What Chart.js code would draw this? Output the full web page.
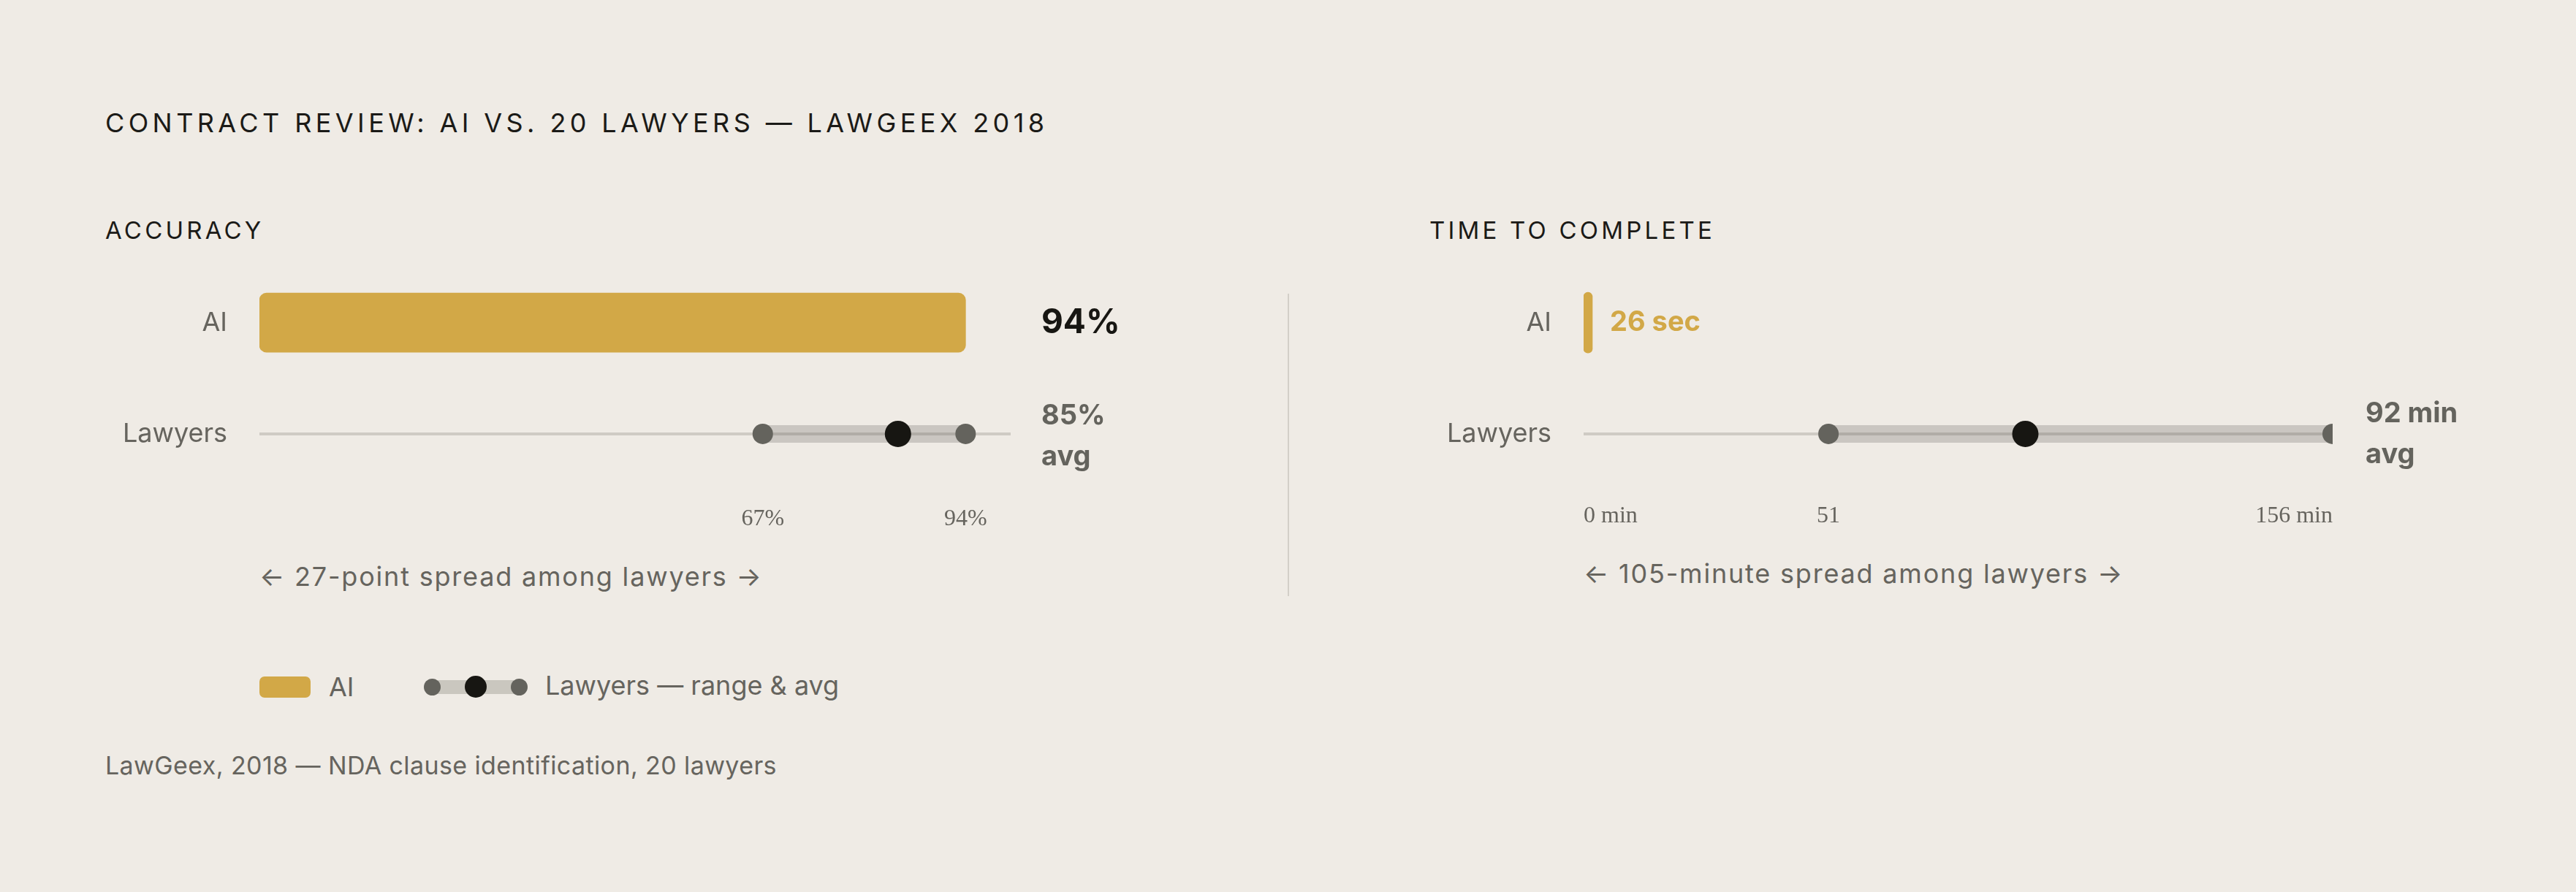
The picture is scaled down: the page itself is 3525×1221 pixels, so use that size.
<!DOCTYPE html>
<html>
<head>
<meta charset="utf-8">
<script src="https://cdn.jsdelivr.net/npm/chart.js@4.4.1/dist/chart.umd.min.js"></script>
<style>
  html, body { margin: 0; padding: 0; background: #efebe5; }
  body { width: 3525px; height: 1221px; position: relative; overflow: hidden;
         font-family: Inter, "Noto Sans", sans-serif; color: #66645e; }
  .abs { position: absolute; white-space: nowrap; line-height: 1; }
  .title { left: 144px; top: 150px; font-size: 36px; letter-spacing: 5.4px; color: #1b1a17; }
  .head { top: 299px; font-size: 33px; letter-spacing: 4.2px; color: #1b1a17; }
  .note { top: 771px; font-size: 36px; letter-spacing: 1.8px; }
  .foot { left: 144px; top: 1031px; font-size: 34px; letter-spacing: 0.4px; }
  canvas { position: absolute; }
  .divider { position: absolute; left: 1762px; top: 402px; width: 2px; height: 414px; background: #d3cfc8; }
  .lg-ai { position: absolute; left: 355px; top: 926px; width: 70px; height: 29px; border-radius: 7px; background: #d2a847; }
  .lg-band { position: absolute; left: 592px; top: 931px; width: 119px; height: 19px; background: #cac7bf; }
  .lg-dot { position: absolute; border-radius: 50%; }
</style>
</head>
<body>
<div class="abs title">CONTRACT REVIEW: AI VS. 20 LAWYERS — LAWGEEX 2018</div>
<div class="abs head" style="left:144px">ACCURACY</div>
<div class="abs head" style="left:1956px">TIME TO COMPLETE</div>

<canvas id="accuracy" width="1560" height="440" style="left:144px; top:300px; width:1560px; height:440px"></canvas>
<div class="divider"></div>
<canvas id="time" width="1500" height="440" style="left:1956px; top:300px; width:1500px; height:440px"></canvas>

<div class="abs note" id="note-acc" style="left:355px"></div>
<div class="abs note" id="note-time" style="left:2167px; top:767px"></div>

<div class="lg-ai"></div>
<div class="abs" style="left:450px; top:922px; font-size:36px">AI</div>
<div class="lg-band"></div>
<div class="lg-dot" style="left:580px; top:929px; width:23px; height:23px; background:#64635d"></div>
<div class="lg-dot" style="left:699px; top:929px; width:23px; height:23px; background:#64635d"></div>
<div class="lg-dot" style="left:636px; top:925px; width:30px; height:30px; background:#171612"></div>
<div class="abs" style="left:746px; top:920px; font-size:36px">Lawyers — range &amp; avg</div>

<div class="abs foot">LawGeex, 2018 — NDA clause identification, 20 lawyers</div>

<script>
const rowLabels = ['AI', 'Lawyers'];

// accuracy, percent
const accuracyAi = [94];
const accuracyLawyers = [67, 85, 94];   // min, avg, max
const accuracyTicks = [67, 94];

// time to complete, minutes
const timeAi = [26 / 60];               // 26 sec
const timeLawyers = [51, 92, 156];      // min, avg, max
const timeTicks = [0, 51, 156];

const GOLD = '#d2a847';
const DARK = '#171612';
const GREY = '#64635d';
const TEXT = '#66645e';
const SANS = 'Inter, "Noto Sans", sans-serif';

const valueLabels = {
  id: 'valueLabels',
  afterDatasetsDraw(chart, args, opts) {
    const ctx = chart.ctx;
    const area = chart.chartArea;
    const y = chart.scales.y;
    const bar = chart.getDatasetMeta(0).data[0];
    ctx.save();
    ctx.textAlign = 'left';
    ctx.textBaseline = 'middle';
    opts.items.forEach(function(it) {
      ctx.font = it.font;
      ctx.fillStyle = it.color;
      const x = (it.anchor === 'bar' ? bar.x : area.right) + it.dx;
      const yc = y.getPixelForValue(it.row) + (it.dy || 0);
      const lh = it.lh || 0;
      const start = yc - lh * (it.lines.length - 1) / 2;
      it.lines.forEach(function(t, i) { ctx.fillText(t, x, start + i * lh); });
    });
    ctx.restore();
  }
};

function makePanel(id, c) {
  const lo = c.lawyers[0], avg = c.lawyers[1], hi = c.lawyers[2];
  return new Chart(document.getElementById(id), {
    type: 'bar',
    data: {
      labels: rowLabels,
      datasets: [
        { type: 'bar', indexAxis: 'y', data: [c.ai[0], null], backgroundColor: GOLD,
          barThickness: c.barThickness, borderRadius: c.radius, borderSkipped: false,
          minBarLength: c.minBar, order: 1 },
        { type: 'line', indexAxis: 'y', data: [{x: 0, y: 'Lawyers'}, {x: c.max, y: 'Lawyers'}],
          borderColor: '#cfcbc4', borderWidth: 4, pointRadius: 0, order: 5 },
        { type: 'line', indexAxis: 'y', data: [{x: lo, y: 'Lawyers'}, {x: hi, y: 'Lawyers'}],
          borderColor: 'rgba(44,42,38,0.19)', borderWidth: 24, borderCapStyle: 'butt', pointRadius: 0, order: 4 },
        { type: 'line', indexAxis: 'y', showLine: false, data: [{x: lo, y: 'Lawyers'}, {x: hi, y: 'Lawyers'}],
          pointRadius: 14, pointBackgroundColor: GREY, pointBorderWidth: 0, order: 3 },
        { type: 'line', indexAxis: 'y', showLine: false, data: [{x: avg, y: 'Lawyers'}],
          pointRadius: 18, pointBackgroundColor: DARK, pointBorderWidth: 0, order: 2 }
      ]
    },
    options: {
      indexAxis: 'y',
      responsive: false,
      animation: false,
      events: [],
      layout: { padding: { top: 0, right: c.padRight, bottom: 0, left: 0 } },
      plugins: {
        legend: { display: false },
        tooltip: { enabled: false },
        valueLabels: { items: c.labels }
      },
      scales: {
        x: {
          type: 'linear', min: 0, max: c.max,
          grid: { display: false, drawTicks: false },
          border: { display: false },
          afterBuildTicks: function(s) { s.ticks = c.ticks.map(function(v) { return {value: v}; }); },
          ticks: {
            callback: c.fmt, autoSkip: false, maxRotation: 0, align: c.align,
            font: { family: '"Liberation Serif", serif', size: 32 }, color: TEXT, padding: c.tickPad
          },
          afterFit: function(s) { s.height = 70; }
        },
        y: {
          type: 'category',
          grid: { display: false, drawTicks: false },
          border: { display: false },
          ticks: { font: { family: SANS, size: 36 }, color: TEXT, padding: 44 },
          afterFit: function(s) { s.width = 211; }
        }
      }
    },
    plugins: [valueLabels]
  });
}

makePanel('accuracy', {
  ai: accuracyAi, lawyers: accuracyLawyers, ticks: accuracyTicks, max: 100,
  barThickness: 81, radius: 10, minBar: 0, padRight: 321, align: 'center', tickPad: 21,
  fmt: function(v) { return v + '%'; },
  labels: [
    { row: 0, anchor: 'area', dx: 42, lines: [accuracyAi[0] + '%'], font: 'bold 46px ' + SANS, color: DARK },
    { row: 1, anchor: 'area', dx: 42, dy: 4, lh: 56, lines: [accuracyLawyers[1] + '%', 'avg'], font: 'bold 38px ' + SANS, color: GREY }
  ]
});

makePanel('time', {
  ai: timeAi, lawyers: timeLawyers, ticks: timeTicks, max: timeLawyers[2],
  barThickness: 83, radius: 6, minBar: 12, padRight: 264, align: 'inner', tickPad: 17,
  fmt: function(v, i, arr) { return (i === 0 || i === arr.length - 1) ? v + ' min' : String(v); },
  labels: [
    { row: 0, anchor: 'bar', dx: 24, lines: [Math.round(timeAi[0] * 60) + ' sec'], font: 'bold 38px ' + SANS, color: GOLD },
    { row: 1, anchor: 'area', dx: 45, dy: 1, lh: 56, lines: [timeLawyers[1] + ' min', 'avg'], font: 'bold 38px ' + SANS, color: GREY }
  ]
});

document.getElementById('note-acc').textContent =
  '← ' + (accuracyLawyers[2] - accuracyLawyers[0]) + '-point spread among lawyers →';
document.getElementById('note-time').textContent =
  '← ' + (timeLawyers[2] - timeLawyers[0]) + '-minute spread among lawyers →';
</script>
</body>
</html>
